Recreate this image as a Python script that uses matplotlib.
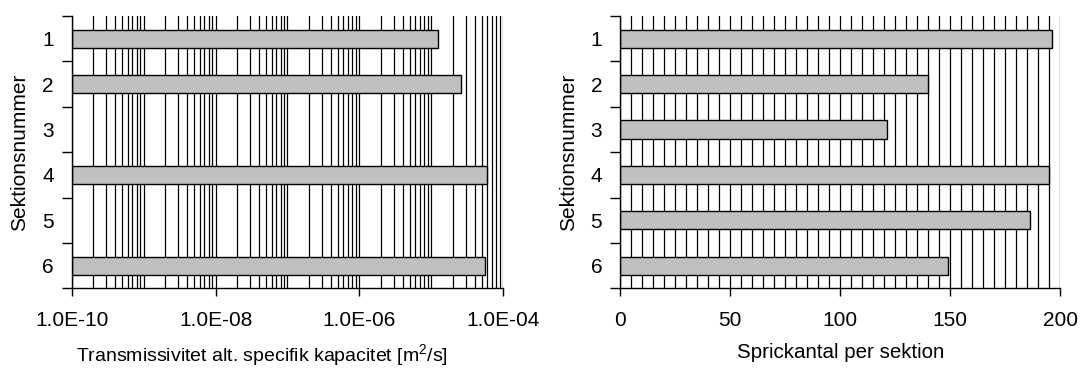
import numpy as np
import matplotlib
matplotlib.use("Agg")
import matplotlib.pyplot as plt
from matplotlib.ticker import FixedLocator, LogLocator, MultipleLocator, NullFormatter

# ---- data ----
sections = [1, 2, 3, 4, 5, 6]
section_labels = ["1", "2", "3", "4", "5", "6"]
transmissivity = [1.25e-5, 2.6e-5, None, 5.9e-5, None, 5.6e-5]   # m2/s
fracture_count = [196, 140, 121, 195, 186, 149]
log_ticks = [1e-10, 1e-8, 1e-6, 1e-4]
log_tick_labels = ["1.0E-10", "1.0E-08", "1.0E-06", "1.0E-04"]
count_ticks = [0, 50, 100, 150, 200]

plt.rcParams["font.family"] = ["Liberation Sans", "DejaVu Sans"]
plt.rcParams["mathtext.fontset"] = "custom"
plt.rcParams["mathtext.rm"] = "Liberation Sans"
plt.rcParams["mathtext.it"] = "Liberation Sans"

FS = 15
fig = plt.figure(figsize=(10.8, 3.72), dpi=100)
axL = fig.add_axes([71.7/1080, 1-288.3/372, (503.3-71.7)/1080, (288.3-16)/372])
axR = fig.add_axes([620.3/1080, 1-288.3/372, (1060.3-620.3)/1080, (288.3-16)/372])

bar_h = 0.4
bar_kw = dict(height=bar_h, color="#c0c0c0", edgecolor="black", linewidth=1.0, zorder=3)

# left chart
ys = [s for s, v in zip(sections, transmissivity) if v is not None]
vs = [v for v in transmissivity if v is not None]
axL.set_xscale("log")
axL.set_xlim(log_ticks[0], log_ticks[-1])
axL.barh(ys, [v - log_ticks[0] for v in vs], left=log_ticks[0], **bar_kw)
axL.xaxis.set_major_locator(FixedLocator(log_ticks))
axL.set_xticklabels(log_tick_labels)
axL.xaxis.set_minor_locator(LogLocator(base=10, subs=np.arange(1, 10), numticks=100))
axL.xaxis.set_minor_formatter(NullFormatter())
axL.set_xlabel("Transmissivitet alt. specifik kapacitet [m$^2$/s]", fontsize=14.0, labelpad=9)
axL.xaxis.label.set_x(0.44)

# right chart
axR.set_xlim(count_ticks[0], count_ticks[-1])
axR.barh(sections, fracture_count, **bar_kw)
axR.xaxis.set_major_locator(FixedLocator(count_ticks))
axR.xaxis.set_minor_locator(MultipleLocator(5))
axR.set_xlabel("Sprickantal per sektion", fontsize=14.8, labelpad=10)

for ax in (axL, axR):
    ax.set_ylim(6.5, 0.5)
    ax.set_yticks(np.arange(0.5, 7.0, 1.0))
    ax.set_yticklabels([])
    ax.set_yticks(sections, minor=True)
    ax.set_yticklabels(section_labels, minor=True, fontsize=FS)
    ax.tick_params(axis="y", which="major", direction="out", length=7, width=1)
    ax.tick_params(axis="y", which="minor", length=0, pad=13)
    ax.tick_params(axis="x", which="major", direction="out", length=6, width=1, labelsize=FS, pad=10)
    ax.tick_params(axis="x", which="minor", length=0)
    ax.grid(True, axis="x", which="both", color="black", linewidth=0.9, zorder=1)
    ax.set_axisbelow(True)
    for s in ("top", "right"):
        ax.spines[s].set_visible(False)
    for s in ("left", "bottom"):
        ax.spines[s].set_linewidth(1.0)
        ax.spines[s].set_zorder(4)
    ax.set_ylabel("Sektionsnummer", fontsize=FS, labelpad=9)

fig.savefig("out.png", dpi=100)
